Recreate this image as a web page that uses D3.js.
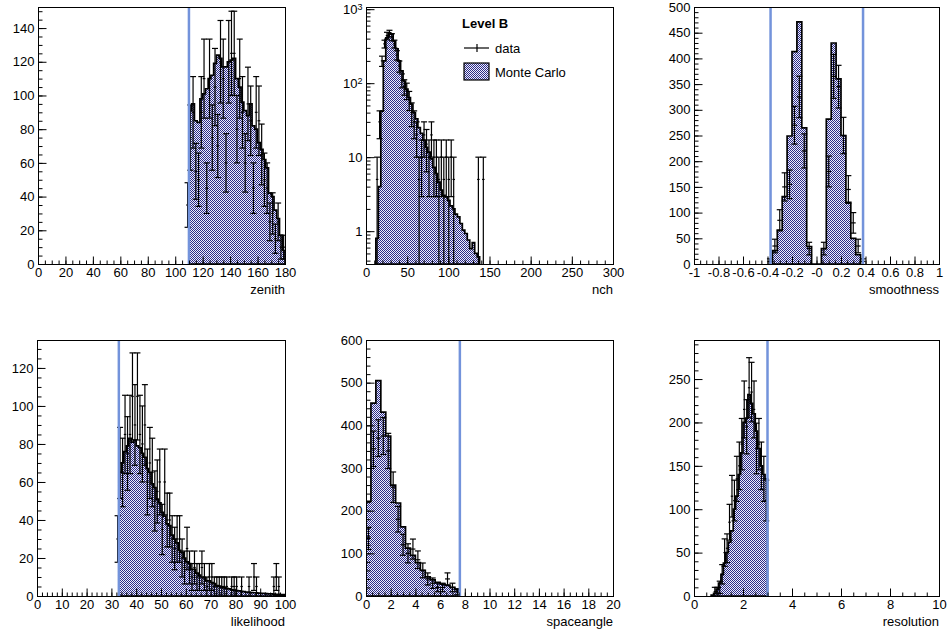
<!DOCTYPE html>
<html>
<head>
<meta charset="utf-8">
<script src="https://cdn.jsdelivr.net/npm/d3@7"></script>
<style>
  body { margin: 0; background: #fff; }
  svg { display: block; }
  text { font-family: "Liberation Sans", Arial, Helvetica, sans-serif; }
</style>
</head>
<body>
<svg id="canvas" width="947" height="632"></svg>
<script>
// ---- histogram contents (bins: first lower edge + width) ----
const zenithMC = [91, 95, 85, 84, 98, 101, 104, 110, 112, 119, 124, 122, 117, 117, 120, 121, 122, 110,
  105, 96, 91, 88, 95, 82, 80, 72, 68, 62, 57, 42, 40, 32, 27, 17, 8];
const zenithData = [35, 75, 90, 55, 50, 90, 110, 45, 110, 75, 105, 70, 120, 110, 60, 120, 125, 125,
  80, 110, 90, 60, 95, 85, 45, 90, 85, 65, 50, 45, 25, 30, 15, 25, 10, 10];

const nchMC = [0.8, 4, 42, 200, 410, 480, 460, 370, 290, 200, 147, 107, 83, 64, 52, 40, 33, 25, 21, 17,
  13.6, 11.7, 9.5, 7.3, 6, 4.6, 3.6, 3.05, 2.9, 2.6, 2.2, 2.0, 1.7, 1.56, 1.27, 1.03, 0.93, 0.76, 0.58,
  0.7, 0.5, 0.45];
const nchData = [5, 30, 200, 340, 440, 470, 420, 340, 240, 170, 110, 90, 80, 60, 40, 30, 20, 5, 10, 20,
  15, 10, 20, 10, 10, 5, 10, 5, 10, 5, 10, 5, 0, 0, 0, 0, 0, 0, 0, 0, 0, 5, 0, 5];

const smoothMC = [26, 66, 131, 249, 413, 471, 265, 34, 0, 0, 30, 282, 430, 360, 250, 120, 50, 18];
const smoothData = [5, 35, 85, 150, 155, 270, 325, 220, 30, 0, 0, 30, 180, 365, 345, 250, 145, 80, 35, 5];

const likeMC = [65, 70, 76, 79, 83, 81, 82, 79, 78, 75, 73, 67, 65, 59, 57, 51, 49, 44, 42, 38, 37, 32,
  30, 28, 24, 23, 20, 18, 17, 14, 14, 12, 11, 10, 9.5, 8, 8, 7, 6.5, 5.5, 5.2, 4.5, 4.3, 4, 3.7, 3.2,
  3.1, 2.8, 2.7, 2.4, 2.3, 2, 2, 1.8, 1.7, 1.7, 1.5, 1.4, 1.4, 1.2, 1.1, 1.1, 1, 0.9, 0.9, 0.8, 0.7];
const likeData = [30, 70, 65, 85, 75, 85, 105, 90, 105, 85, 80, 90, 60, 70, 65, 50, 55, 60, 35, 60, 40,
  40, 30, 25, 30, 30, 20, 15, 25, 15, 10, 15, 10, 10, 15, 10, 5, 10, 10, 5, 5, 5, 5, 5, 5, 0, 5, 5, 5,
  0, 5, 0, 0, 5, 0, 10, 5, 0, 0, 0, 0, 0, 0, 5, 10, 5];

const angleMC = [222, 452, 505, 431, 375, 260, 218, 162, 112, 95, 78, 60, 45, 38, 32, 28, 25, 20, 15];
const angleData = [135, 345, 370, 375, 340, 255, 180, 120, 100, 110, 85, 60, 40, 30, 20, 20, 40, 20, 10];

const resoMC = [1, 3, 8, 15, 25, 38, 50, 62, 75, 100, 115, 140, 165, 200, 205, 232, 222, 210, 190, 170,
  150, 140, 135];
const resoData = [5, 5, 10, 25, 50, 55, 85, 115, 110, 135, 150, 175, 215, 195, 240, 235, 215, 170, 175,
  150, 135, 110];

const dataWeight = 5; // each data entry carries weight 5, error = sqrt(w * content)

const legendLabels = ["Level B", "data", "Monte Carlo"];

// ---- pad layout ----
const panels = [
  { title: "zenith", frame: [38, 7, 285, 264], x: [0, 180], y: [0, 152.5],
    xMajor: 20, xMinor: 5, yMajor: 20, yMinor: 5,
    mc: { start: 110, width: 2, values: zenithMC }, data: { start: 108, width: 2, values: zenithData },
    cuts: [110] },
  { title: "nch", frame: [366, 7, 613, 264], x: [0, 300], y: [0.36, 1070], log: true,
    xMajor: 50, xMinor: 10,
    mc: { start: 12, width: 3, values: nchMC }, data: { start: 12, width: 3, values: nchData },
    cuts: [], legend: true },
  { title: "smoothness", frame: [694, 7, 939, 264], x: [-1, 1], y: [0, 500],
    xMajor: 0.2, xMinor: 0.05, yMajor: 50, yMinor: 10,
    mc: { start: -0.36, width: 0.04, values: smoothMC }, data: { start: -0.40, width: 0.04, values: smoothData },
    cuts: [-0.375, 0.38], signedZero: true },
  { title: "likelihood", frame: [37, 340, 285, 596], x: [0, 100], y: [0, 134.7],
    xMajor: 10, xMinor: 2, yMajor: 20, yMinor: 5,
    mc: { start: 33, width: 1, values: likeMC }, data: { start: 32, width: 1, values: likeData },
    cuts: [33] },
  { title: "spaceangle", frame: [366, 340, 613, 596], x: [0, 20], y: [0, 600],
    xMajor: 2, xMinor: 0.5, yMajor: 100, yMinor: 20,
    mc: { start: 0, width: 0.4, values: angleMC }, data: { start: 0, width: 0.4, values: angleData },
    cuts: [7.6] },
  { title: "resolution", frame: [694, 340, 939, 596], x: [0, 10], y: [0, 295],
    xMajor: 2, xMinor: 0.5, yMajor: 50, yMinor: 10,
    mc: { start: 0.7, width: 0.1, values: resoMC }, data: { start: 0.8, width: 0.1, values: resoData },
    cuts: [3.0] }
];

const svg = d3.select("#canvas");
svg.append("rect").attr("width", 947).attr("height", 632).attr("fill", "#fff");

const defs = svg.append("defs");
const pat = defs.append("pattern").attr("id", "mcfill")
  .attr("width", 2).attr("height", 2).attr("patternUnits", "userSpaceOnUse");
pat.append("rect").attr("width", 2).attr("height", 2).attr("fill", "#eeeefc");
pat.append("rect").attr("width", 1).attr("height", 1).attr("fill", "#2c2c86");
pat.append("rect").attr("x", 1).attr("y", 1).attr("width", 1).attr("height", 1).attr("fill", "#2c2c86");

function ticksBetween(lo, hi, step) {
  const out = [];
  const n = Math.round((hi - lo) / step);
  for (let i = 0; i <= n; i++) out.push(+(lo + i * step).toFixed(6));
  return out;
}

function drawPanel(p, idx) {
  const [x0, y0, x1, y1] = p.frame;
  const g = svg.append("g");
  const xs = d3.scaleLinear().domain(p.x).range([x0, x1]);
  const ys = (p.log ? d3.scaleLog() : d3.scaleLinear()).domain(p.y).range([y1, y0]);
  const yMin = p.y[0];

  const clipId = "clip" + idx;
  defs.append("clipPath").attr("id", clipId)
    .append("rect").attr("x", x0).attr("y", y0).attr("width", x1 - x0).attr("height", y1 - y0);
  const plot = g.append("g").attr("clip-path", `url(#${clipId})`);

  // Monte Carlo histogram (step outline)
  const mc = p.mc;
  const pts = [[mc.start, yMin]];
  mc.values.forEach((v, i) => {
    const lo = mc.start + i * mc.width, hi = lo + mc.width;
    const vv = Math.max(v, yMin);
    pts.push([lo, vv], [hi, vv]);
  });
  pts.push([mc.start + mc.values.length * mc.width, yMin]);
  const line = d3.line().x(d => xs(d[0])).y(d => ys(d[1]));
  plot.append("path").attr("d", line(pts) + "Z")
    .attr("fill", "url(#mcfill)").attr("stroke", "#000").attr("stroke-width", 1.7)
    .attr("stroke-linejoin", "miter");

  // data points with error bars
  const dg = plot.append("g").attr("stroke", "#000").attr("stroke-width", 1.2).attr("fill", "none");
  p.data.values.forEach((v, i) => {
    if (v <= 0) return;
    const lo = p.data.start + i * p.data.width, hi = lo + p.data.width, c = (lo + hi) / 2;
    const err = Math.sqrt(dataWeight * v);
    const top = v + err, bot = Math.max(v - err, yMin);
    dg.append("line").attr("x1", xs(lo)).attr("x2", xs(hi)).attr("y1", ys(v)).attr("y2", ys(v));
    dg.append("line").attr("x1", xs(c)).attr("x2", xs(c)).attr("y1", ys(bot)).attr("y2", ys(top));
    dg.append("line").attr("x1", xs(c) - 3).attr("x2", xs(c) + 3).attr("y1", ys(top)).attr("y2", ys(top));
    if (v - err > yMin)
      dg.append("line").attr("x1", xs(c) - 3).attr("x2", xs(c) + 3).attr("y1", ys(bot)).attr("y2", ys(bot));
  });

  // cut lines
  p.cuts.forEach(c => {
    plot.append("line").attr("x1", xs(c)).attr("x2", xs(c)).attr("y1", y0).attr("y2", y1)
      .attr("stroke", "#7393db").attr("stroke-width", 2.5);
  });

  // frame
  g.append("rect").attr("x", x0 + 0.5).attr("y", y0 + 0.5)
    .attr("width", x1 - x0).attr("height", y1 - y0)
    .attr("fill", "none").attr("stroke", "#000").attr("stroke-width", 1);

  // x axis
  const fmtX = v => {
    if (Math.abs(v) < 1e-9) return p.signedZero ? "-0" : "0";
    return String(+v.toFixed(2));
  };
  const xg = g.append("g").attr("transform", `translate(0,${y1 + 0.5})`);
  xg.call(d3.axisBottom(xs).tickValues(ticksBetween(p.x[0], p.x[1], p.xMajor))
      .tickSize(-8).tickPadding(3).tickFormat(fmtX));
  const xm = g.append("g").attr("transform", `translate(0,${y1 + 0.5})`);
  xm.call(d3.axisBottom(xs).tickValues(ticksBetween(p.x[0], p.x[1], p.xMinor))
      .tickSize(-4).tickFormat(""));

  // y axis
  const yg = g.append("g").attr("transform", `translate(${x0 + 0.5},0)`);
  const ym = g.append("g").attr("transform", `translate(${x0 + 0.5},0)`);
  if (p.log) {
    const majors = [1, 10, 100, 1000];
    const minors = [];
    [0.1, 1, 10, 100, 1000].forEach(d => {
      for (let k = 1; k <= 9; k++) {
        const v = k * d;
        if (v >= p.y[0] && v <= p.y[1]) minors.push(v);
      }
    });
    yg.call(d3.axisLeft(ys).tickValues(majors).tickSize(-8).tickPadding(4).tickFormat(d => String(d)));
    ym.call(d3.axisLeft(ys).tickValues(minors).tickSize(-4).tickFormat(""));
    yg.selectAll(".tick text").each(function(d) {
      if (d >= 100) {
        const t = d3.select(this).text("");
        t.append("tspan").text("10");
        t.append("tspan").attr("dy", "-0.45em").attr("font-size", 9).text(String(Math.round(Math.log10(d))));
      }
    });
  } else {
    yg.call(d3.axisLeft(ys).tickValues(ticksBetween(p.y[0], Math.floor(p.y[1] / p.yMajor) * p.yMajor, p.yMajor))
        .tickSize(-8).tickPadding(4).tickFormat(d => String(d)));
    ym.call(d3.axisLeft(ys).tickValues(ticksBetween(p.y[0], Math.floor(p.y[1] / p.yMinor) * p.yMinor, p.yMinor))
        .tickSize(-4).tickFormat(""));
  }

  [xg, xm, yg, ym].forEach(a => {
    a.select(".domain").remove();
    a.attr("font-size", 13).attr("font-family", null);
    a.selectAll("line").attr("stroke", "#000");
    a.selectAll("text").attr("fill", "#000");
  });

  // axis title
  g.append("text").attr("x", x1).attr("y", y1 + 30).attr("text-anchor", "end")
    .attr("font-size", 13).text(p.title);

  if (p.legend) {
    const lg = g.append("g");
    lg.append("text").attr("x", 462).attr("y", 28).attr("font-size", 13).attr("font-weight", "bold")
      .text(legendLabels[0]);
    lg.append("line").attr("x1", 464).attr("x2", 489).attr("y1", 48).attr("y2", 48)
      .attr("stroke", "#000").attr("stroke-width", 1.2);
    lg.append("line").attr("x1", 477).attr("x2", 477).attr("y1", 44).attr("y2", 52)
      .attr("stroke", "#000").attr("stroke-width", 1.2);
    lg.append("text").attr("x", 495).attr("y", 53).attr("font-size", 13).text(legendLabels[1]);
    lg.append("rect").attr("x", 464).attr("y", 63).attr("width", 25).attr("height", 17)
      .attr("fill", "url(#mcfill)").attr("stroke", "#000").attr("stroke-width", 1.2);
    lg.append("text").attr("x", 495).attr("y", 77).attr("font-size", 13).text(legendLabels[2]);
  }
}

panels.forEach(drawPanel);
</script>
</body>
</html>
